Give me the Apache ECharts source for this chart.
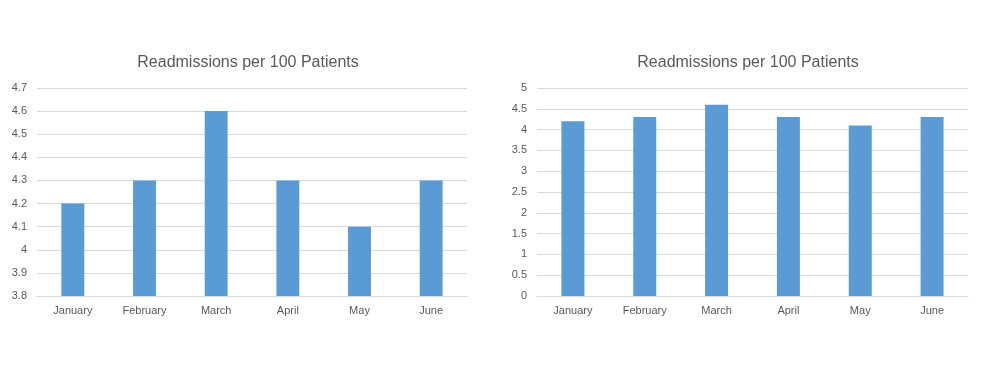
<!DOCTYPE html>
<html><head><meta charset="utf-8">
<script src="https://cdn.jsdelivr.net/npm/echarts@6/dist/echarts.min.js"></script>
<style>html,body{margin:0;padding:0;background:#fff}#c{width:1008px;height:387px}</style>
</head><body><div id="c"></div>
<script>
const categories = ["January","February","March","April","May","June"];
const readmissions = [4.2, 4.3, 4.6, 4.3, 4.1, 4.3];
const titleText = "Readmissions per 100 Patients";
const leftAxis = {min: 3.8, max: 4.7, interval: 0.1};
const rightAxis = {min: 0, max: 5, interval: 0.5};

const chart = echarts.init(document.getElementById('c'));
const font = "'Liberation Sans', 'DejaVu Sans', sans-serif";
const txt = '#595959';
function xAx(i){return {type:'category', gridIndex:i, data:categories, axisTick:{show:false},
  axisLine:{lineStyle:{color:'#d9d9d9'}}, axisLabel:{color:txt, fontSize:11, fontFamily:font, margin:9}};}
function yAx(i,a){return {type:'value', gridIndex:i, min:a.min, max:a.max, interval:a.interval,
  axisLine:{show:false}, axisTick:{show:false},
  splitLine:{lineStyle:{color:'#d9d9d9'}},
  axisLabel:{color:txt, fontSize:11, fontFamily:font, margin:10,
    formatter:v=>String(Math.round(v*10)/10)}};}
chart.setOption({
  animation:false,
  title:[
    {text:titleText, left:243, top:50, textAlign:'center', textStyle:{color:txt, fontSize:16, fontWeight:'normal', fontFamily:font}},
    {text:titleText, left:743, top:50, textAlign:'center', textStyle:{color:txt, fontSize:16, fontWeight:'normal', fontFamily:font}}
  ],
  grid:[
    {left:37, top:88, width:430, height:208},
    {left:537, top:88, width:431, height:208}
  ],
  xAxis:[xAx(0), xAx(1)],
  yAxis:[yAx(0,leftAxis), yAx(1,rightAxis)],
  series:[
    {type:'bar', xAxisIndex:0, yAxisIndex:0, data:readmissions, barWidth:'32%', itemStyle:{color:'#5b9bd5'}},
    {type:'bar', xAxisIndex:1, yAxisIndex:1, data:readmissions, barWidth:'32%', itemStyle:{color:'#5b9bd5'}}
  ]
});
</script></body></html>
